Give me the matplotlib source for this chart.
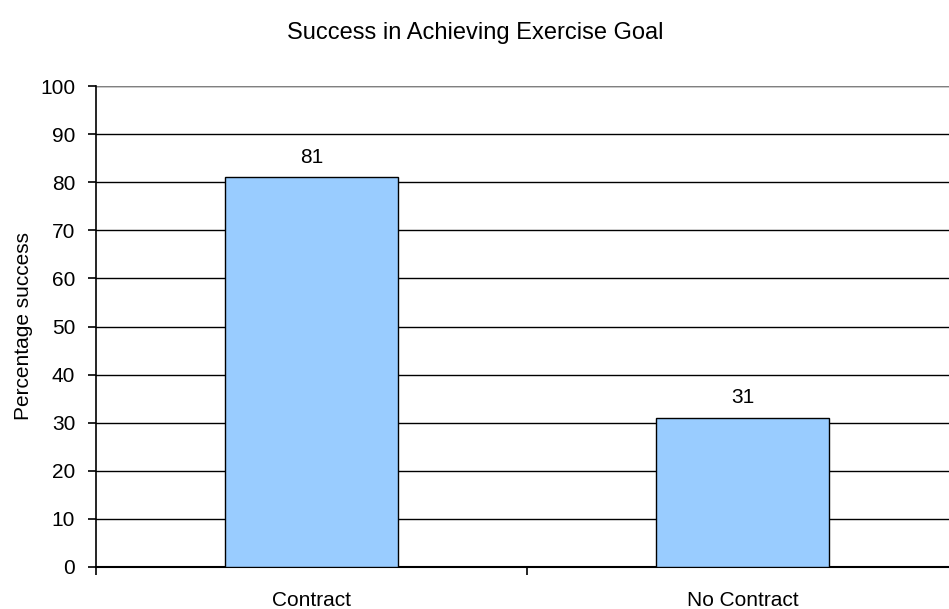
import matplotlib
matplotlib.use("Agg")
import matplotlib.pyplot as plt
import numpy as np

plt.rcParams["font.family"] = ["Liberation Sans", "DejaVu Sans"]

# データ
categories = ["Contract", "No Contract"]
values = [81, 31]
y_ticks = [0, 10, 20, 30, 40, 50, 60, 70, 80, 90, 100]

FS = 15

fig = plt.figure(figsize=(9.49, 6.09), dpi=100)
ax = fig.add_axes([96 / 949, 42 / 609, 862 / 949, 481 / 609])

x = np.arange(len(categories)) + 0.5
bars = ax.bar(x, values, width=0.4, color="#99CCFF", edgecolor="black", linewidth=1, zorder=3)

for b, v in zip(bars, values):
    ax.text(b.get_x() + b.get_width() / 2, v + 2.2, str(v), ha="center", va="bottom", fontsize=FS)

ax.set_xlim(0, len(categories))
ax.set_ylim(0, 100)
ax.set_yticks(y_ticks)
ax.set_xticks([0, 1, 2])
ax.set_xticklabels([])
ax.set_xticks(x, minor=True)
ax.set_xticklabels(categories, minor=True, fontsize=FS)
ax.tick_params(axis="x", which="minor", length=0, pad=17)
ax.tick_params(axis="x", which="major", length=6, width=1.2, direction="out")
ax.tick_params(axis="y", length=6, width=1.2, direction="out", labelsize=FS, pad=9)

ax.yaxis.grid(True, color="black", linewidth=1, zorder=0)
ax.set_axisbelow(True)

for side in ["top", "right"]:
    ax.spines[side].set_visible(False)
ax.spines["left"].set_linewidth(1.2)
ax.spines["bottom"].set_linewidth(1.5)
ax.axhline(100, color="#808080", linewidth=1.5, zorder=1)

ax.set_ylabel("Percentage success", fontsize=FS, labelpad=5)
fig.text(475 / 949, 1 - 33 / 609, "Success in Achieving Exercise Goal", ha="center", va="center", fontsize=17)

fig.savefig("out.png", dpi=100)
